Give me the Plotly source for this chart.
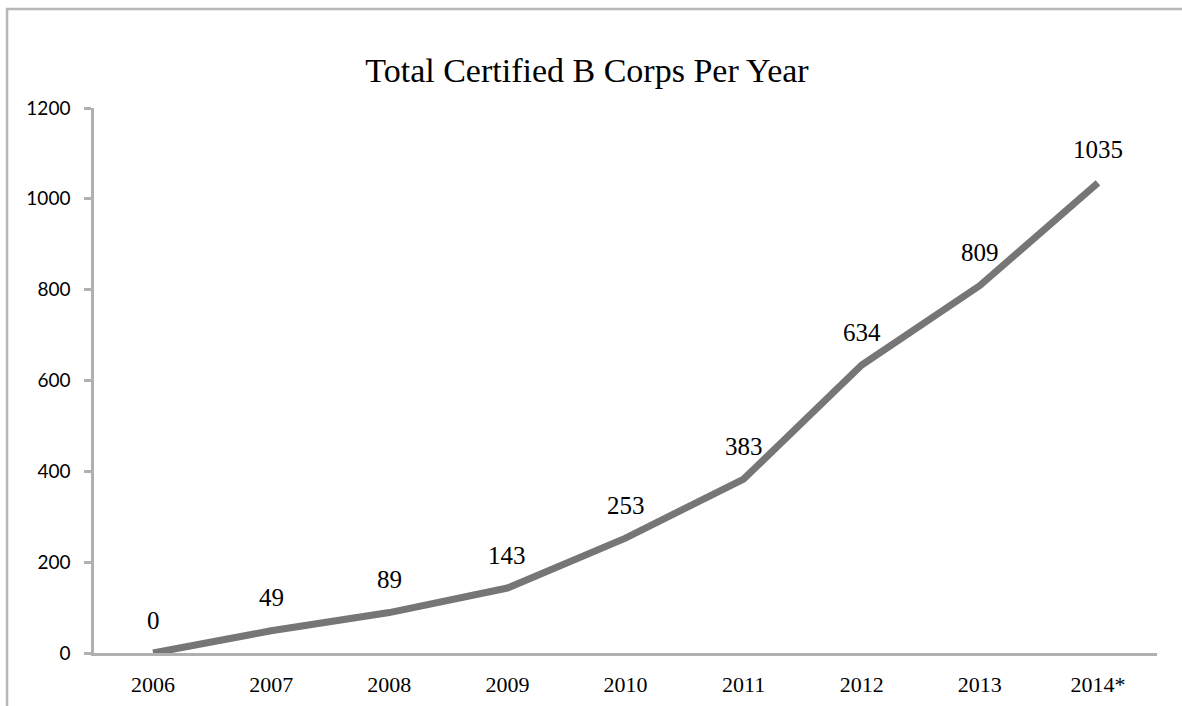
import plotly.graph_objects as go

years = ["2006", "2007", "2008", "2009", "2010", "2011", "2012", "2013", "2014*"]
totals = [0, 49, 89, 143, 253, 383, 634, 809, 1035]
y_ticks = [0, 200, 400, 600, 800, 1000, 1200]

fig = go.Figure()
fig.add_trace(go.Scatter(
    x=years, y=totals, mode="lines",
    line=dict(color="#767676", width=7),
    hoverinfo="x+y", showlegend=False,
))

# category index positions for the value labels (numeric-looking names would be read as numbers)
for i, v in enumerate(totals):
    fig.add_annotation(
        x=i, y=v, text=str(v), showarrow=False, yshift=33,
        font=dict(family="Liberation Serif, Times New Roman, serif", size=25, color="#000"),
    )

# outer chart border (cropped on the right/bottom like the reference)
fig.add_shape(type="rect", xref="paper", yref="paper",
              x0=-0.0818, x1=1.1, y0=-0.3, y1=1.1817,
              line=dict(color="#b8b8b8", width=2.5), fillcolor="rgba(0,0,0,0)", layer="below")

fig.update_layout(
    width=1182, height=706,
    margin=dict(l=94, r=25, t=108, b=53, autoexpand=False),
    paper_bgcolor="white", plot_bgcolor="white",
    title=dict(text="Total Certified B Corps Per Year", x=0.4966, xref="container", xanchor="center",
               y=1 - 70 / 706, yref="container", yanchor="middle",
               font=dict(family="Liberation Serif, Times New Roman, serif", size=34, color="#000")),
    xaxis=dict(type="category", range=[-0.5, 8.5], showgrid=False, zeroline=False,
               showline=True, linecolor="#b0b0b0", linewidth=2.5, ticks="",
               ticklabelstandoff=10, automargin=False,
               tickfont=dict(family="Liberation Serif, Times New Roman, serif", size=22, color="#000")),
    yaxis=dict(range=[0, 1200], tickvals=y_ticks, showgrid=False, zeroline=False,
               showline=True, linecolor="#b0b0b0", linewidth=2.5,
               ticks="outside", ticklen=7, tickwidth=2.5, tickcolor="#b0b0b0",
               ticklabelstandoff=10, automargin=False,
               tickfont=dict(family="Lato, Carlito, sans-serif", size=19, color="#000")),
)

fig.write_html("out.html")
